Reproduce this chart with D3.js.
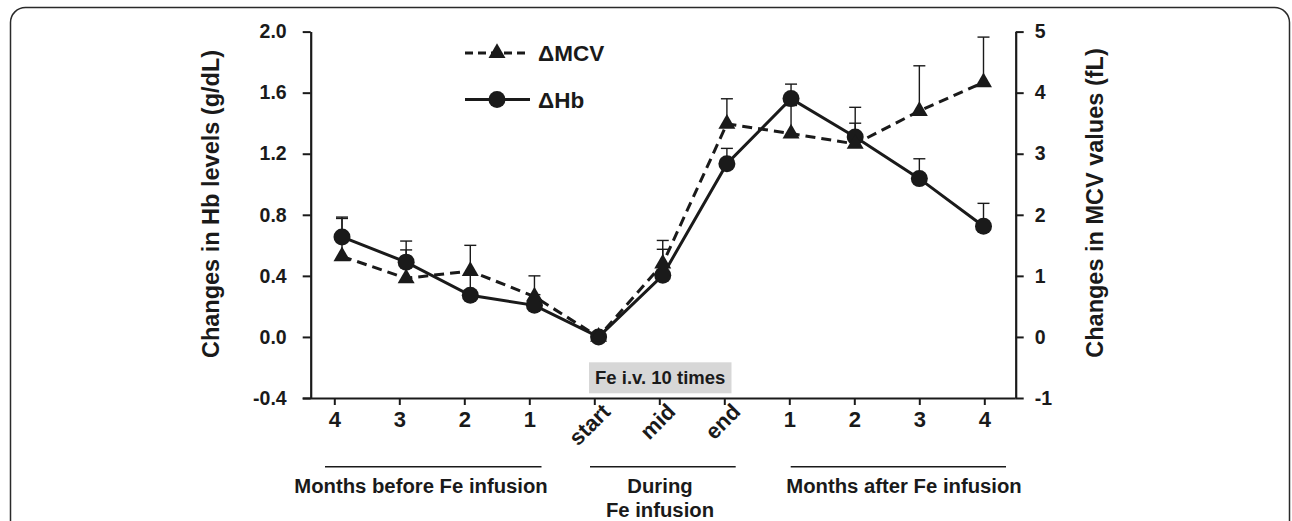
<!DOCTYPE html>
<html><head><meta charset="utf-8">
<script src="https://cdn.jsdelivr.net/npm/d3@7"></script>
<style>
html,body{margin:0;padding:0;background:#fff;}
svg{display:block;font-family:"Liberation Sans",Arial,Helvetica,sans-serif;font-weight:bold;}
</style></head>
<body>
<svg id="chart" width="1292" height="521"></svg>
<script>
// ---- data ----
const categories = ["4","3","2","1","start","mid","end","1 ","2 ","3 ","4 "];
const tickLabels = ["4","3","2","1","start","mid","end","1","2","3","4"];
const hbMean = [0.655, 0.49, 0.273, 0.207, 0, 0.404, 1.135, 1.561, 1.31, 1.037, 0.725];
const hbSD   = [0.13, 0.08, 0.14, 0.07, 0, 0.17, 0.10, 0.095, 0.09, 0.13, 0.15];
const mcvMean = [1.32, 0.96, 1.08, 0.66, 0, 1.2, 3.49, 3.33, 3.16, 3.70, 4.17];
const mcvSD   = [0.62, 0.61, 0.42, 0.34, 0, 0.38, 0.41, 0.46, 0.60, 0.74, 0.74];
const leftTicks = [-0.4, 0.0, 0.4, 0.8, 1.2, 1.6, 2.0];
const rightTicks = [-1, 0, 1, 2, 3, 4, 5];
const groups = [
  {lines:["Months before Fe infusion"], from:0, to:3},
  {lines:["During","Fe infusion"], from:4, to:6},
  {lines:["Months after Fe infusion"], from:7, to:10}
];
const legendItems = [{label:"\u0394MCV", key:"mcv"},{label:"\u0394Hb", key:"hb"}];
const boxText = "Fe i.v. 10 times";
const leftTitle = "Changes in Hb levels (g/dL)";
const rightTitle = "Changes in MCV values (fL)";

// ---- layout ----
const svg = d3.select("#chart");
const X0 = 310.7, X1 = 1015.7, Ytop = 31.6, Ybot = 398;
const ink = "#1a1a1a";
const hyphen = f => (d => f(d).replace("\u2212","-"));

svg.append("rect").attr("x",10.5).attr("y",7.5).attr("width",1279).attr("height",620)
  .attr("rx",15).attr("fill","none").attr("stroke","#2a2a2a").attr("stroke-width",1.5);

const xAxisScale = d3.scalePoint().domain(categories).range([334.3, 984.3]);
const xData = d3.scalePoint().domain(categories).range([342, 983.5]);
const yL = d3.scaleLinear().domain([-0.4, 2.0]).range([Ybot, Ytop]);
const yR = d3.scaleLinear().domain([-1, 5]).range([Ybot, Ytop]);

// Left axis
const gL = svg.append("g").attr("transform",`translate(${X0},0)`)
  .call(d3.axisLeft(yL).tickValues(leftTicks).tickFormat(hyphen(d3.format(".1f"))).tickSize(8).tickSizeOuter(0));
gL.select(".domain").attr("stroke",ink).attr("stroke-width",2.2);
gL.selectAll(".tick line").attr("stroke",ink).attr("stroke-width",2);
gL.selectAll(".tick text").attr("x",-24).attr("fill",ink).style("font-size","19.5px").style("font-weight","bold").style("font-family","Liberation Sans, Arial, sans-serif");

// Right axis
const gR = svg.append("g").attr("transform",`translate(${X1},0)`)
  .call(d3.axisRight(yR).tickValues(rightTicks).tickFormat(hyphen(d3.format("d"))).tickSize(8).tickSizeOuter(0));
gR.select(".domain").attr("stroke",ink).attr("stroke-width",2.2);
gR.selectAll(".tick line").attr("stroke",ink).attr("stroke-width",2);
gR.selectAll(".tick text").attr("x",19).attr("fill",ink).style("font-size","19.5px").style("font-weight","bold").style("font-family","Liberation Sans, Arial, sans-serif");

// Bottom axis
const gB = svg.append("g").attr("transform",`translate(0,${Ybot})`)
  .call(d3.axisBottom(xAxisScale).tickSize(7).tickSizeOuter(0).tickFormat((d,i)=>tickLabels[i]));
gB.select(".domain").attr("d",`M${X0-8},0.5H${X1}`).attr("stroke",ink).attr("stroke-width",2.2);
gB.selectAll(".tick line").attr("stroke",ink).attr("stroke-width",2);
gB.selectAll(".tick text").attr("fill",ink).style("font-size","22px").style("font-weight","bold")
  .style("font-family","Liberation Sans, Arial, sans-serif")
  .each(function(d,i){
    const t = d3.select(this);
    if (i>=4 && i<=6){
      t.attr("text-anchor","end").attr("y",0).attr("dy",0)
       .attr("transform","translate(17,15) rotate(-45)");
    } else {
      t.attr("y",13).attr("dy","0.71em");
    }
  });

// Gray box
const boxG = svg.append("g");
boxG.append("rect").attr("x",589).attr("y",362.3).attr("width",142.5).attr("height",31)
  .attr("fill","#d7d7d7");
boxG.append("text").attr("x",660.2).attr("y",378).attr("text-anchor","middle").attr("dy","0.35em")
  .attr("fill",ink).style("font-size","18.5px").text(boxText);

// Titles
svg.append("text").attr("transform",`translate(211,204) rotate(-90)`).attr("text-anchor","middle")
  .attr("dy","0.35em").attr("fill",ink).style("font-size","23.5px").text(leftTitle);
svg.append("text").attr("transform",`translate(1095,203) rotate(-90)`).attr("text-anchor","middle")
  .attr("dy","0.35em").attr("fill",ink).style("font-size","23.5px").text(rightTitle);

// Groups under x axis
const groupLineExt = [[325,541.5],[590,735.7],[790.7,1006]];
const groupCenters = [421, 660, 904];
groups.forEach((g,i)=>{
  const [a,b] = groupLineExt[i];
  svg.append("line").attr("x1",a).attr("x2",b).attr("y1",466.7).attr("y2",466.7)
    .attr("stroke",ink).attr("stroke-width",1.6);
  g.lines.forEach((ln,j)=>{
    svg.append("text").attr("x", groupCenters[i]).attr("y",492.5 + j*24.3)
      .attr("text-anchor","middle").attr("fill",ink).style("font-size","20.3px").text(ln);
  });
});

// Series
const plot = svg.append("g");
const idx = d3.range(categories.length);

function errorBars(mean, sd, yScale){
  const g = plot.append("g");
  idx.forEach(i=>{
    if (sd[i] <= 0) return;
    const x = xData(categories[i]);
    const y0 = yScale(mean[i]), y1 = yScale(mean[i]+sd[i]);
    g.append("line").attr("x1",x).attr("x2",x).attr("y1",y0).attr("y2",y1).attr("stroke",ink).attr("stroke-width",1.4);
    g.append("line").attr("x1",x-6).attr("x2",x+6).attr("y1",y1).attr("y2",y1).attr("stroke",ink).attr("stroke-width",1.4);
  });
}
errorBars(hbMean, hbSD, yL);
errorBars(mcvMean, mcvSD, yR);

const lineHb = d3.line().x(i=>xData(categories[i])).y(i=>yL(hbMean[i]));
const lineMcv = d3.line().x(i=>xData(categories[i])).y(i=>yR(mcvMean[i]));

plot.append("path").attr("d",lineHb(idx)).attr("fill","none").attr("stroke",ink).attr("stroke-width",3);
plot.selectAll(".hbpt").data(idx).join("circle").attr("class","hbpt")
  .attr("cx",i=>xData(categories[i])).attr("cy",i=>yL(hbMean[i])).attr("r",8.5).attr("fill",ink);

plot.append("path").attr("d",lineMcv(idx)).attr("fill","none").attr("stroke",ink).attr("stroke-width",3)
  .attr("stroke-dasharray","10,6");
const tri = d3.symbol().type(d3.symbolTriangle).size(125);
plot.selectAll(".mcvpt").data(idx).join("path").attr("class","mcvpt")
  .attr("transform",i=>`translate(${xData(categories[i])},${yR(mcvMean[i])})`).attr("d",tri()).attr("fill",ink);

// Legend
const lg = svg.append("g");
legendItems.forEach((it,j)=>{
  const y = j===0 ? 53 : 99.5;
  const l = lg.append("line").attr("x1",465).attr("x2",530).attr("y1",y).attr("y2",y)
    .attr("stroke",ink).attr("stroke-width",3);
  if (it.key==="mcv"){
    l.attr("stroke-dasharray","8,5");
    lg.append("path").attr("transform",`translate(497,${y})`).attr("d",tri()).attr("fill",ink);
  } else {
    lg.append("circle").attr("cx",497).attr("cy",y).attr("r",8.5).attr("fill",ink);
  }
  lg.append("text").attr("x",538).attr("y",y).attr("dy","0.36em").attr("fill",ink)
    .style("font-size","22.5px").text(it.label);
});
</script>
</body></html>
